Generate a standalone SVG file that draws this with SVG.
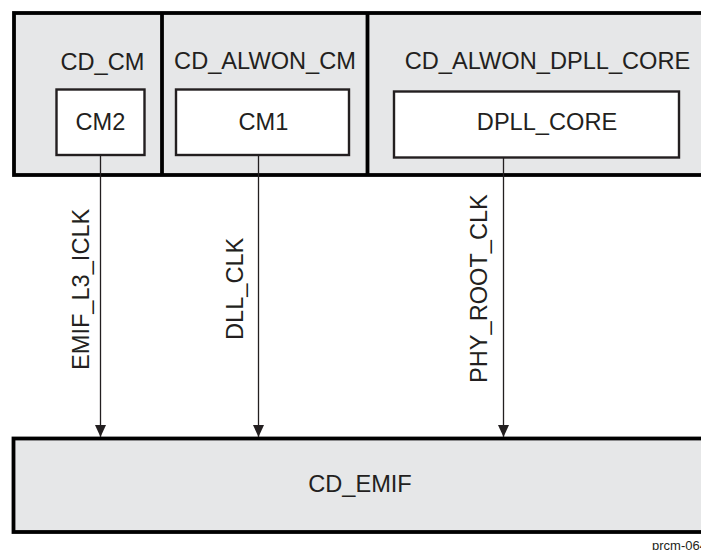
<svg xmlns="http://www.w3.org/2000/svg" width="701" height="550" viewBox="0 0 701 550">
<style>
text{font-family:"Liberation Sans",Arial,sans-serif;font-size:23.6px;fill:#231f20}
.dom{fill:#e6e7e8;stroke:#000;stroke-width:3.8}
.div{stroke:#000;stroke-width:3.8;fill:none}
.cm{fill:#fff;stroke:#231f20;stroke-width:2.4}
.conn{stroke:#231f20;stroke-width:1.3;fill:none}
.c{text-anchor:middle}
</style>
<defs>
<marker id="ah" markerWidth="12" markerHeight="11" refX="12" refY="5.5" orient="auto" markerUnits="userSpaceOnUse" viewBox="0 0 12 11">
<path d="M0,0 L12,5.5 L0,11 Z" fill="#231f20"/>
</marker>
</defs>
<g id="top-domains">
<rect class="dom" x="14" y="13" width="700" height="162"/>
<line class="div" x1="162" y1="13" x2="162" y2="175"/>
<line class="div" x1="367.5" y1="13" x2="367.5" y2="175"/>
</g>
<g id="CD_CM">
<text class="c" x="102.5" y="70">CD_CM</text>
</g>
<g id="CM2">
<rect class="cm" x="56.5" y="89.5" width="88" height="65.5"/>
<text class="c" x="100.5" y="130">CM2</text>
</g>
<g id="CD_ALWON_CM">
<text class="c" x="265" y="69">CD_ALWON_CM</text>
</g>
<g id="CM1">
<rect class="cm" x="176" y="89.5" width="173" height="65.5"/>
<text class="c" x="263.5" y="130">CM1</text>
</g>
<g id="CD_ALWON_DPLL_CORE">
<text class="c" x="547.5" y="69">CD_ALWON_DPLL_CORE</text>
</g>
<g id="DPLL_CORE">
<rect class="cm" x="394" y="91.5" width="285" height="66"/>
<text class="c" x="547" y="130">DPLL_CORE</text>
</g>
<g id="CD_EMIF">
<rect class="dom" x="13.5" y="438.5" width="700" height="93.5"/>
<text class="c" x="360" y="491.5">CD_EMIF</text>
</g>
<g id="connectors">
<line class="conn" x1="100.5" y1="155" x2="100.5" y2="437" marker-end="url(#ah)"/>
<line class="conn" x1="258.5" y1="155" x2="258.5" y2="437" marker-end="url(#ah)"/>
<line class="conn" x1="503.5" y1="157.5" x2="503.5" y2="437" marker-end="url(#ah)"/>
<text transform="translate(89,370) rotate(-90)">EMIF_L3_ICLK</text>
<text transform="translate(242.5,340) rotate(-90)">DLL_CLK</text>
<text transform="translate(486.5,383) rotate(-90)">PHY_ROOT_CLK</text>
</g>
<text x="652" y="550" style="font-size:13px">prcm-064</text>
</svg>
